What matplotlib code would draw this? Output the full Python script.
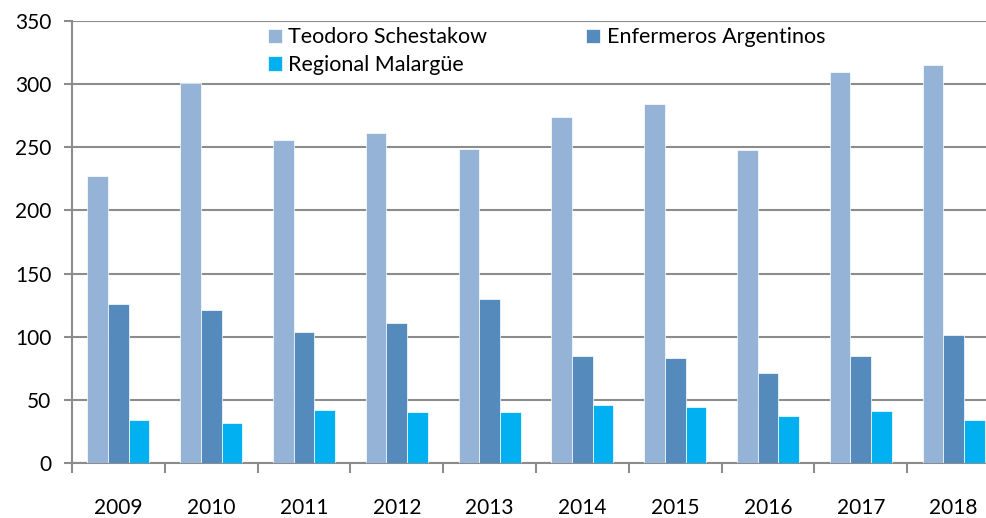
import matplotlib
matplotlib.use("Agg")
from matplotlib import pyplot as plt
import numpy as np

years = ["2009", "2010", "2011", "2012", "2013", "2014", "2015", "2016", "2017", "2018"]
teodoro = [227, 301, 256, 261, 249, 274, 284, 248, 310, 315]
enfermeros = [126, 121, 104, 111, 130, 85, 83, 71, 85, 101]
malargue = [34, 32, 42, 40, 40, 46, 44, 37, 41, 34]

series_names = ["Teodoro Schestakow", "Enfermeros Argentinos", "Regional Malargüe"]
colors = ["#95B3D7", "#558ABD", "#00B0F0"]

plt.rcParams["font.family"] = ["Lato", "DejaVu Sans"]
grid_col = "#8C8C8C"

fig = plt.figure(figsize=(9.87, 5.18), dpi=100)
ax = fig.add_axes([72 / 987, 55 / 518, 928 / 987, 442 / 518])

x = np.arange(len(years))
w = 1 / 4.5
bars = []
for i, (vals, name, col) in enumerate(zip([teodoro, enfermeros, malargue], series_names, colors)):
    b = ax.bar(x + (i - 1) * w, vals, width=w, color=col, label=name,
               edgecolor="white", linewidth=0.5, zorder=3)
    bars.append(b)

ax.set_xlim(-0.5, len(years) - 0.5)
ax.set_ylim(0, 350)
ax.set_yticks(range(0, 351, 50))
ax.yaxis.grid(True, color=grid_col, linewidth=1.5, zorder=0)

ax.set_xticks(x)
ax.set_xticklabels(years)
ax.set_xticks(np.arange(-0.5, len(years), 1), minor=True)
ax.tick_params(axis="x", which="major", length=0, pad=25, labelsize=15)
ax.tick_params(axis="x", which="minor", length=7, width=1.5, color=grid_col, direction="out")
ax.tick_params(axis="y", length=6, width=1.5, color=grid_col, labelsize=15, pad=9)

for s in ["top", "right"]:
    ax.spines[s].set_visible(False)
for s in ["left", "bottom"]:
    ax.spines[s].set_color(grid_col)
    ax.spines[s].set_linewidth(1.5)

# row-wise legend order like the original
order = [0, 2, 1]
ax.legend([bars[i] for i in order], [series_names[i] for i in order],
          ncol=2, loc="upper left", bbox_to_anchor=(185 / 928, 1.01),
          frameon=False, fontsize=15.5, handlelength=0.65, handleheight=0.65,
          handletextpad=0.3, columnspacing=4.6, labelspacing=0.35, borderaxespad=0.1)

fig.savefig("out.png", dpi=100)
